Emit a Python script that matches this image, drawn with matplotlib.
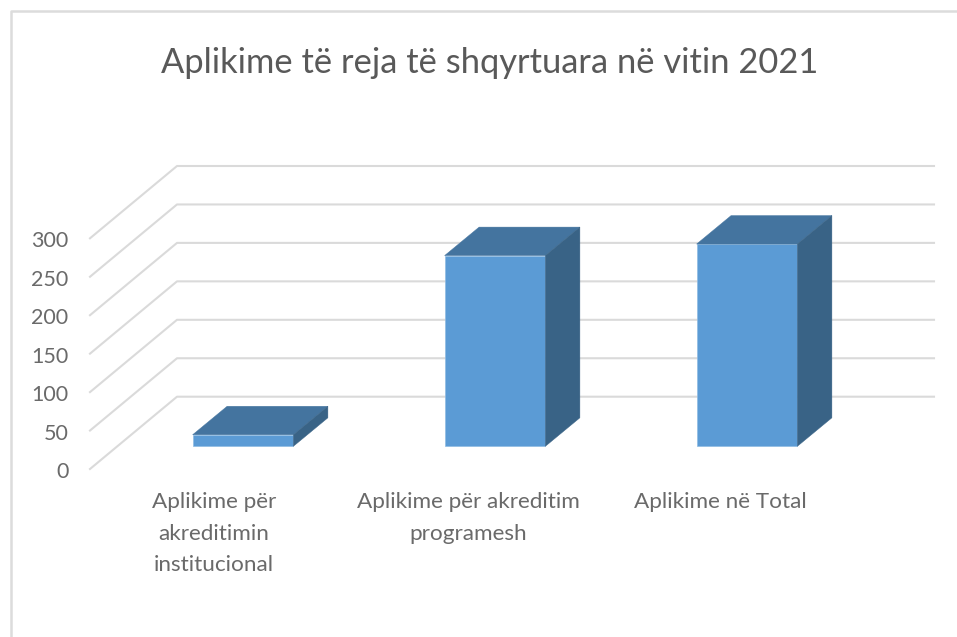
import matplotlib
matplotlib.use('Agg')
import matplotlib.pyplot as plt

# donnees
categories = ['Aplikime për\nakreditimin\ninstitucional',
              'Aplikime për akreditim\nprogramesh',
              'Aplikime në Total']
values = [15, 248, 263]
ticks = [0, 50, 100, 150, 200, 250, 300]
title = 'Aplikime të reja të shqyrtuara në vitin 2021'

W, H = 957, 637
PX_CAT = 252     # pixels per category
PX_VAL = 0.769   # pixels per unit
X0 = 243         # pixel x of first category
Y0 = 446.3       # pixel y of value 0

plt.rcParams['font.family'] = ['Lato', 'DejaVu Sans']

fig = plt.figure(figsize=(W / 100, H / 100), dpi=100)
ax = fig.add_axes([0, 0, 1, 1])
ax.set_xlim(-X0 / PX_CAT, (W - X0) / PX_CAT)
ax.set_ylim(-(H - Y0) / PX_VAL, Y0 / PX_VAL)
ax.axis('off')


def cx(px):
    return (px - X0) / PX_CAT


def vy(px):
    return (Y0 - px) / PX_VAL


# cadre
ax.plot([cx(10.5), cx(10.5), cx(W)], [vy(H), vy(11), vy(11)],
        color='#dcdcdc', lw=1.8, solid_capstyle='butt')

# grille
left_x, back_x, right_x = cx(90), cx(177), cx(934)
left_y, back_y = vy(469), vy(396.7)
for t in ticks:
    ax.plot([left_x, back_x, right_x], [t + left_y, t + back_y, t + back_y],
            color='#dadada', lw=1.5, zorder=1)
    ax.text(cx(68.5), t + vy(470), str(t), ha='right', va='center_baseline',
            fontsize=15.5, color='#6a6a6a')

# barres
bar_w = 0.4
dx = 34.5 / PX_CAT
dy = 28.5 / PX_VAL
for i, v in enumerate(values):
    l, r = i - bar_w / 2, i + bar_w / 2
    ax.bar(i, v, width=bar_w, color='#5b9bd5', edgecolor='#8fbbe3', lw=0.5, zorder=3)
    ax.fill([l, r, r + dx, l + dx], [v, v, v + dy, v + dy], color='#44749f', lw=0.3, zorder=3)
    ax.fill([r, r + dx, r + dx, r], [0, dy, v + dy, v], color='#396386', lw=0.3, zorder=3)

# etiquettes
label_x = [214, 468, 720]
for px, c in zip(label_x, categories):
    ax.text(cx(px), vy(492), c, ha='center', va='top', fontsize=16.2,
            color='#6a6a6a', linespacing=1.72)

ax.text(cx(489.5), vy(73), title, ha='center', va='baseline', fontsize=24.8, color='#595959')

fig.savefig('out.png', dpi=100)
